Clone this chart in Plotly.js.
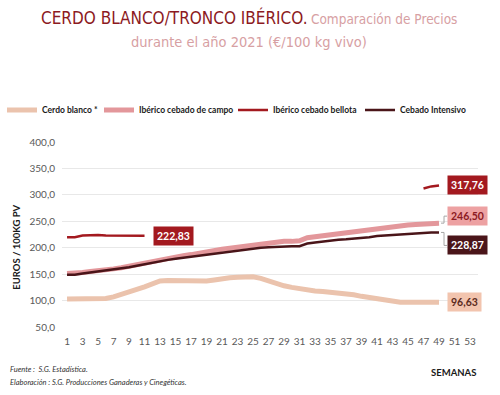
<!DOCTYPE html>
<html><head><meta charset="utf-8">
<script src="https://cdn.plot.ly/plotly-3.0.1.min.js"></script>
<style>body{margin:0;background:#fff}#c{width:500px;height:395px}</style>
</head><body><div id="c"></div>
<script>
const weeks = Array.from({length:49},(_,i)=>i+1);
const cerdoBlanco = [103,103,102,102,102,104,107,111,116,121,126,132,137,138,138,138,137,136,137,139,142,143,144,145,145,142,137,132,128,125,122,120,118,117,116,115,113,111,108,106,103,100,98,97,97,97,97,96.8,96.63];
const ibericoCampo = [151,151,153,155,156,158,160,162,165,168,171,175,178,181,183,185,187,190,192,194,197,199,201,203,205,208,210,211,212,212,213,219,221,223,224,226,227,229,231,233,235,237,239,241,243,244,245,246,246.5];
const ibericoBellota = [220,220,223,224,224,223,223,223,223,223,222.83,null,null,null,null,null,null,null,null,null,null,null,null,null,null,null,null,null,null,null,null,null,null,null,null,null,null,null,null,null,null,null,null,null,null,null,312,316,317.76];
const cebadoIntensivo = [149,149,151,153,154,156,158,160,163,166,169,172,175,177,179,181,183,185,187,189,191,193,195,196,198,200,201,202,203,203,203,208,210,212,213,215,216,217,218,220,222,223,225,226,227,228,228.5,228.8,228.87];
const names = ['Cerdo blanco *','Ibérico cebado de campo','Ibérico cebado bellota','Cebado Intensivo'];
const colors = ['#ebc3ad','#e3979b','#a3191f','#4a1519'];
const widths = [5,5,2.5,2.5];
const series = [cerdoBlanco, ibericoCampo, ibericoBellota, cebadoIntensivo];
const xTicks = Array.from({length:27},(_,i)=>1+2*i);
const legendIds = ['legend','legend2','legend3','legend4'];
const legendLeft = [2, 99, 233, 360];

const traces = series.map((s,i)=>({
  x: weeks, y: s, name: names[i], type:'scatter', mode:'lines', legend: legendIds[i],
  line:{color:colors[i], width:widths[i]}, connectgaps:false, hoverinfo:'skip'
}));

function lastVal(s){ for(let i=s.length-1;i>=0;i--) if(s[i]!=null) return {x:weeks[i],y:s[i]}; }
function fmt(v){ return v.toFixed(2).replace('.',','); }
const lab = (s, bg, fc, yshift) => {
  const p = lastVal(s);
  return {x:p.x, y:p.y, xref:'x', yref:'y', text:'<b>'+fmt(p.y)+'</b>', showarrow:false,
    xanchor:'left', yanchor:'middle', xshift:8, yshift:yshift, bgcolor:bg, borderpad:3,
    font:{family:'Lato, "Open Sans", sans-serif', size:10.5, color:fc}};
};
const leader = (s, dy) => {
  const p = lastVal(s);
  return {type:'path', xref:'x', yref:'y', xsizemode:'pixel', ysizemode:'pixel', xanchor:p.x, yanchor:p.y,
    path:'M2,0 H5 V'+dy+' H8', line:{color:'#a6a6a6', width:1}};
};
const firstBellota = {x:weeks[10], y:ibericoBellota[10]};
const tfont = '"Liberation Sans Narrow","DejaVu Sans Condensed","Roboto Condensed",sans-serif';

const annotations = [
  {xref:'paper', yref:'paper', x:0.45, y:1.0 + (327-17-185)/185, yanchor:'middle', xanchor:'center',
   text:'<span style="font-size:17px;color:#8c1a22">CERDO BLANCO/TRONCO IBÉRICO.</span> <span style="font-size:13.5px;color:#d7a0a3">Comparación de Precios</span>',
   showarrow:false, font:{family:tfont}},
  {xref:'paper', yref:'paper', x:0.45, y:1.0 + (327-42-185)/185, yanchor:'middle', xanchor:'center',
   text:'durante el año 2021 (€/100 kg vivo)',
   showarrow:false, font:{family:tfont, size:14.5, color:'#d7a0a3'}},
  {x:firstBellota.x, y:firstBellota.y, xref:'x', yref:'y', text:'<b>'+fmt(firstBellota.y)+'</b>', showarrow:false,
   xanchor:'left', yanchor:'middle', xshift:8, bgcolor:'#a3191f', borderpad:3,
   font:{family:'Lato, "Open Sans", sans-serif', size:10.5, color:'#ffffff'}},
  lab(ibericoBellota,'#a3191f','#ffffff',0),
  lab(ibericoCampo,'#eda1a2','#8c1a22',7),
  lab(cebadoIntensivo,'#4a1519','#ffffff',-13),
  lab(cerdoBlanco,'#f2c4ae','#5a2a20',0),
  {xref:'paper', yref:'paper', x:-0.11, y:0.43, textangle:-90, showarrow:false, xanchor:'center', yanchor:'middle',
   text:'<b>EUROS / 100KG PV</b>', font:{family:'Lato, sans-serif', size:9.5, color:'#1a1a1a'}},
  {xref:'paper', yref:'paper', x:1.0, y:-0.245, showarrow:false, xanchor:'right', yanchor:'middle',
   text:'<b>SEMANAS</b>', font:{family:'Lato, sans-serif', size:9.5, color:'#1a1a1a'}},
  {xref:'paper', yref:'paper', x:-0.13, y:-0.23, showarrow:false, xanchor:'left', yanchor:'middle', align:'left',
   text:'<i>Fuente :  S.G. Estadística.</i>', font:{family:'Lato, sans-serif', size:7.5, color:'#333'}},
  {xref:'paper', yref:'paper', x:-0.13, y:-0.30, showarrow:false, xanchor:'left', yanchor:'middle', align:'left',
   text:'<i>Elaboración : S.G. Producciones Ganaderas y Cinegéticas.</i>', font:{family:'Lato, sans-serif', size:7.5, color:'#333'}}
];

const layout = {
  width:500, height:395,
  margin:{l:62, r:22, t:142, b:68},
  paper_bgcolor:'#fff', plot_bgcolor:'#fff',
  separators:',.',
  xaxis:{range:[0.35,54.03], tickmode:'array', tickvals:xTicks, ticks:'', showgrid:false, zeroline:false,
    showline:false, tickfont:{family:'Lato, sans-serif', size:10, color:'#595959'}, ticklabelstandoff:7, fixedrange:true},
  yaxis:{range:[50,400], tickvals:[50,100,150,200,250,300,350,400], tickformat:'.1f', ticks:'',
    gridcolor:'#e8e8e8', gridwidth:1, zeroline:false, showline:false,
    tickfont:{family:'Lato, sans-serif', size:10, color:'#595959'}, ticklabelstandoff:6},
  showlegend:true,
  shapes:[leader(ibericoCampo,7), leader(cebadoIntensivo,-13)],
  annotations: annotations
};
legendIds.forEach((id,i)=>{
  layout[id] = {orientation:'h', xref:'container', x:legendLeft[i]/500, xanchor:'left',
    yref:'container', y:1-(110/395), yanchor:'middle',
    font:{family:'Lato, sans-serif', size:8.5, color:'#1a1a1a', weight:'bold'},
    bgcolor:'rgba(0,0,0,0)', borderwidth:0};
});
Plotly.newPlot('c', traces, layout, {staticPlot:true});
</script></body></html>
